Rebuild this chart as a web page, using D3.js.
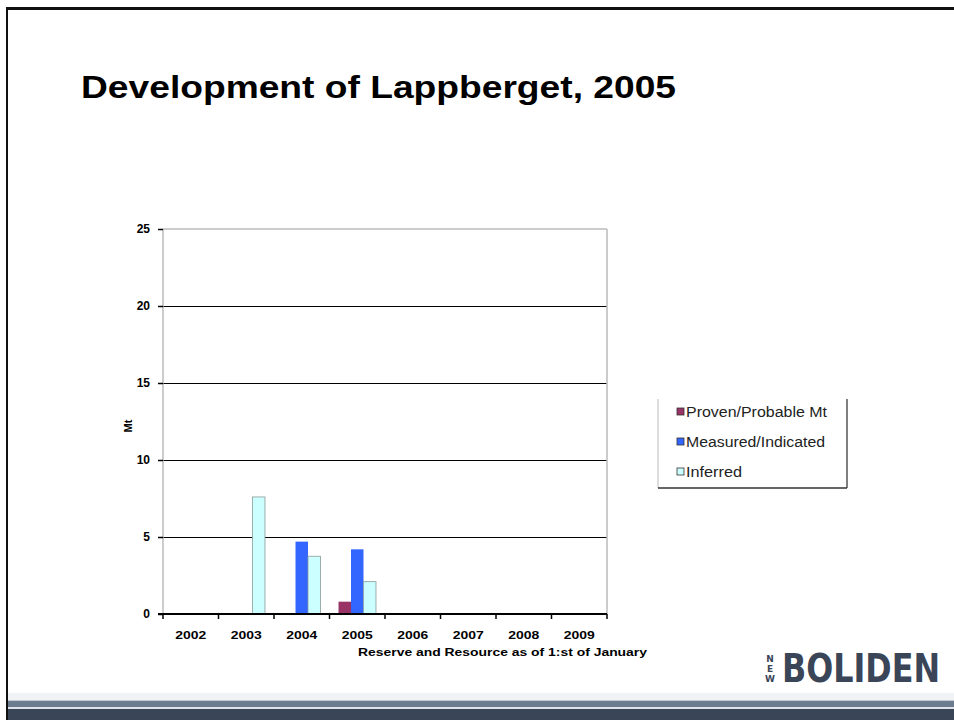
<!DOCTYPE html>
<html>
<head>
<meta charset="utf-8">
<script src="https://cdn.jsdelivr.net/npm/d3@7"></script>
<style>
  body { margin: 0; background: #fff; }
  svg { display: block; }
  .tickLabel { font-family: "Liberation Sans", Arial, sans-serif; font-weight: bold; font-size: 11px; fill: #000; }
  .legendText { font-family: "Liberation Sans", Arial, sans-serif; font-size: 14px; fill: #222; }
</style>
</head>
<body>
<div id="chart"></div>
<script>
// chart values
var years = ["2002", "2003", "2004", "2005", "2006", "2007", "2008", "2009"];
var seriesNames = ["Proven/Probable Mt", "Measured/Indicated", "Inferred"];
var provenValues = [0, 0, 0, 0.8, 0, 0, 0, 0];
var measuredValues = [0, 0, 4.7, 4.2, 0, 0, 0, 0];
var inferredValues = [0, 7.6, 3.75, 2.1, 0, 0, 0, 0];
var yTicks = [0, 5, 10, 15, 20, 25];
var seriesColors = ["#993366", "#3366ff", "#ccffff"];

var width = 954;
var height = 720;
var plot = {left: 163, right: 607, top: 229, bottom: 614};

var svg = d3.select("#chart").append("svg")
    .attr("width", width)
    .attr("height", height);

// slide frame and bottom bands
svg.append("rect").attr("x", 6).attr("y", 7).attr("width", width - 6).attr("height", 3).attr("fill", "#111");
svg.append("rect").attr("x", 6).attr("y", 7).attr("width", 2).attr("height", height - 7).attr("fill", "#111");
svg.append("rect").attr("x", 8).attr("y", 693).attr("width", width - 8).attr("height", 7).attr("fill", "#f1f2f4");
svg.append("rect").attr("x", 8).attr("y", 700).attr("width", width - 8).attr("height", 1.5).attr("fill", "#c5cad2");
svg.append("rect").attr("x", 8).attr("y", 701).attr("width", width - 8).attr("height", 6).attr("fill", "#6d7b8f");
svg.append("rect").attr("x", 8).attr("y", 707).attr("width", width - 8).attr("height", 2).attr("fill", "#dfe2e7");
svg.append("rect").attr("x", 8).attr("y", 709).attr("width", width - 8).attr("height", 11).attr("fill", "#3a4558");

// title
svg.append("text")
    .attr("x", 81)
    .attr("y", 98)
    .attr("textLength", 595)
    .attr("lengthAdjust", "spacingAndGlyphs")
    .style("font-family", "Liberation Sans, Arial, sans-serif")
    .style("font-weight", "bold")
    .style("font-size", "31px")
    .text("Development of Lappberget, 2005");

// scales
var y = d3.scaleLinear().domain([0, 25]).range([plot.bottom, plot.top]);
var x0 = d3.scaleBand().domain(years).range([plot.left, plot.right]);
var groupWidth = x0.bandwidth() * 0.675;
var x1 = d3.scaleBand().domain(seriesNames).range([0, groupWidth]);
var groupOffset = (x0.bandwidth() - groupWidth) / 2;

// gridlines
svg.append("g")
    .attr("transform", "translate(" + plot.left + ",0)")
    .call(d3.axisLeft(y).tickValues([5, 10, 15, 20]).tickSize(-(plot.right - plot.left)).tickFormat(""))
    .call(function(g) { g.select(".domain").remove(); })
    .selectAll("line").attr("stroke", "#000").attr("stroke-width", 1);

// plot area border (grey)
svg.append("line").attr("x1", plot.left).attr("x2", plot.right).attr("y1", y(25)).attr("y2", y(25))
    .attr("stroke", "#999").attr("stroke-width", 1.2);
svg.append("line").attr("x1", plot.left).attr("x2", plot.left).attr("y1", y(25)).attr("y2", y(0))
    .attr("stroke", "#aaa").attr("stroke-width", 1.2);
svg.append("line").attr("x1", plot.right).attr("x2", plot.right).attr("y1", y(25)).attr("y2", y(0))
    .attr("stroke", "#bbb").attr("stroke-width", 1.5);

// bars
var rows = years.map(function(yr, i) {
    return {year: yr, values: [provenValues[i], measuredValues[i], inferredValues[i]]};
});

var groups = svg.selectAll(".yearGroup").data(rows).enter()
    .append("g")
    .attr("class", "yearGroup")
    .attr("transform", function(d) { return "translate(" + (x0(d.year) + groupOffset) + ",0)"; });

groups.selectAll("rect")
    .data(function(d) {
        return d.values.map(function(v, j) { return {name: seriesNames[j], value: v, idx: j}; })
            .filter(function(e) { return e.value > 0; });
    })
    .enter().append("rect")
    .attr("x", function(d) { return x1(d.name); })
    .attr("width", x1.bandwidth())
    .attr("y", function(d) { return y(d.value); })
    .attr("height", function(d) { return y(0) - y(d.value); })
    .attr("fill", function(d) { return seriesColors[d.idx]; })
    .attr("stroke", function(d) { return d.idx == 2 ? "#8a9a9a" : "none"; })
    .attr("stroke-width", 0.8);

// y axis ticks + labels
var yAxis = svg.append("g")
    .attr("transform", "translate(" + plot.left + ",0)")
    .call(d3.axisLeft(y).tickValues(yTicks).tickSize(5).tickPadding(8));
yAxis.select(".domain").remove();
yAxis.selectAll("line").attr("stroke", "#000").attr("stroke-width", 1.5);
yAxis.selectAll("text").attr("class", "tickLabel").attr("font-size", null).attr("font-family", null)
    .style("font-size", "12px");

// x axis line
svg.append("line").attr("x1", plot.left - 5).attr("x2", plot.right).attr("y1", y(0)).attr("y2", y(0))
    .attr("stroke", "#000").attr("stroke-width", 2);

// x ticks at category boundaries
var boundaries = years.map(function(d) { return x0(d); }).concat([x0.range()[1]]);
svg.selectAll(".xBound").data(boundaries).enter().append("line")
    .attr("class", "xBound")
    .attr("x1", function(d) { return d; }).attr("x2", function(d) { return d; })
    .attr("y1", y(0)).attr("y2", y(0) + 5)
    .attr("stroke", "#000").attr("stroke-width", 1.5);

// x labels
svg.selectAll(".xLabel").data(years).enter().append("text")
    .attr("class", "tickLabel")
    .attr("x", function(d) { return x0(d) + x0.bandwidth() / 2; })
    .attr("y", 639)
    .attr("text-anchor", "middle")
    .attr("textLength", 31)
    .attr("lengthAdjust", "spacingAndGlyphs")
    .text(function(d) { return d; });

// axis titles
svg.append("text")
    .attr("class", "tickLabel")
    .attr("x", 358)
    .attr("y", 656)
    .attr("textLength", 289)
    .attr("lengthAdjust", "spacingAndGlyphs")
    .text("Reserve and Resource as of 1:st of January");

svg.append("text")
    .attr("class", "tickLabel")
    .attr("transform", "translate(132,426) rotate(-90)")
    .attr("text-anchor", "middle")
    .text("Mt");

// legend
var legend = svg.append("g");
legend.append("line").attr("x1", 658).attr("x2", 658).attr("y1", 399).attr("y2", 488).attr("stroke", "#bbb");
legend.append("line").attr("x1", 847).attr("x2", 847).attr("y1", 399).attr("y2", 488).attr("stroke", "#555").attr("stroke-width", 1.5);
legend.append("line").attr("x1", 658).attr("x2", 847).attr("y1", 488).attr("y2", 488).attr("stroke", "#333").attr("stroke-width", 1.5);

var legendY = [412, 442, 472];
var legendLen = [141, 139, 56];
var items = legend.selectAll(".legendItem").data(seriesNames).enter()
    .append("g")
    .attr("class", "legendItem")
    .attr("transform", function(d, i) { return "translate(677," + legendY[i] + ")"; });

items.append("rect")
    .attr("x", 0).attr("y", -4)
    .attr("width", 7).attr("height", 7)
    .attr("fill", function(d, i) { return seriesColors[i]; })
    .attr("stroke", "#333").attr("stroke-width", 0.8);

items.append("text")
    .attr("class", "legendText")
    .attr("x", 9)
    .attr("y", 5)
    .attr("textLength", function(d, i) { return legendLen[i]; })
    .attr("lengthAdjust", "spacingAndGlyphs")
    .text(function(d) { return d; });

// logo (smaller font stretched vertically so it stays inside the page)
var logo = svg.append("g").attr("fill", "#3a4558");
logo.append("text")
    .attr("transform", "translate(782,682) scale(1,1.17)")
    .attr("textLength", 158)
    .attr("lengthAdjust", "spacingAndGlyphs")
    .style("font-family", "DejaVu Sans, sans-serif")
    .style("font-weight", "bold")
    .style("font-size", "34px")
    .text("BOLIDEN");
logo.selectAll(".newLetter").data(["N", "E", "W"]).enter().append("text")
    .attr("class", "newLetter")
    .attr("x", 770)
    .attr("y", function(d, i) { return 662 + i * 10; })
    .attr("text-anchor", "middle")
    .style("font-family", "DejaVu Sans, sans-serif")
    .style("font-weight", "bold")
    .style("font-size", "9px")
    .text(function(d) { return d; });
</script>
</body>
</html>
